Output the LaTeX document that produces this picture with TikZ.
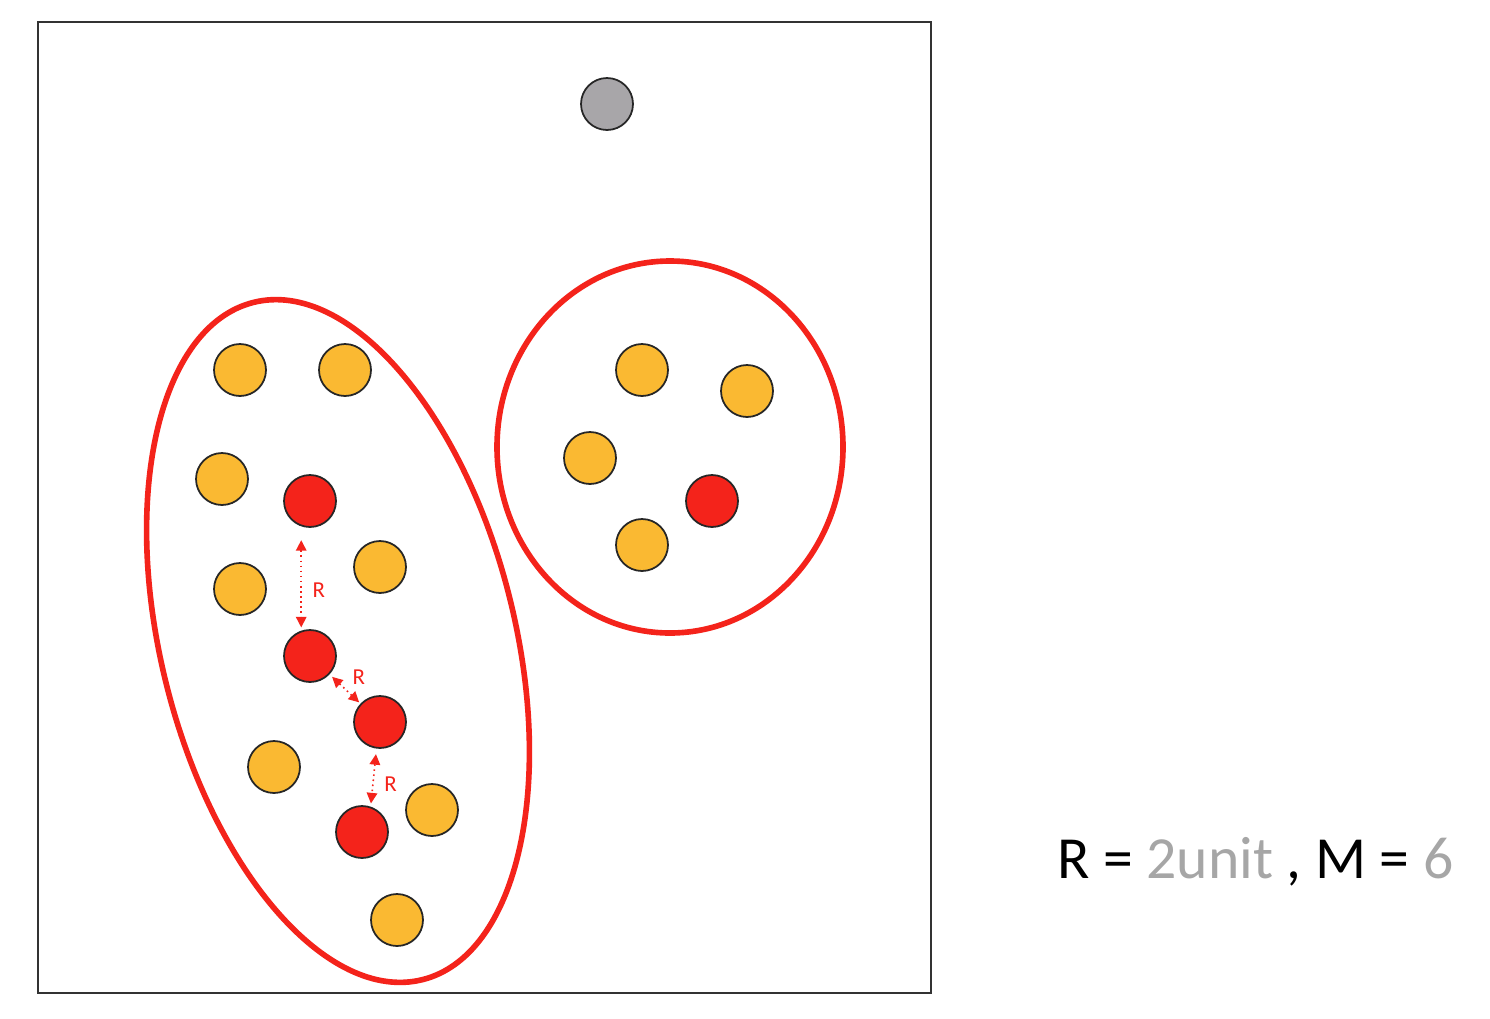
\documentclass[tikz,border=0pt]{standalone}
\usepackage{fontspec}
\setmainfont{Carlito}
\usepackage{xcolor}
\usetikzlibrary{arrows.meta}
\definecolor{ptyellow}{HTML}{FAB932}
\definecolor{ptred}{HTML}{F4231B}
\definecolor{ptgray}{HTML}{A8A6A9}
\definecolor{lblgray}{HTML}{A6A6A6}

\begin{document}
\begin{tikzpicture}[x=0.02cm,y=-0.02cm,
    pt/.style={circle,draw=black!85,line width=1pt,minimum size=1.04cm,inner sep=0pt},
    yellowpt/.style={pt,fill=ptyellow},
    redpt/.style={pt,fill=ptred},
    graypt/.style={pt,fill=ptgray},
    cluster/.style={draw=ptred,line width=3.2pt},
    dist/.style={<->,>={Triangle[length=6pt,width=6pt]},ptred,dotted,line width=0.9pt},
    rlabel/.style={text=ptred,font=\fontsize{13}{13}\selectfont,inner sep=1pt}]
  \useasboundingbox (0,0) rectangle (1490,1018);
  \fill[white] (0,0) rectangle (1490,1018);
  \draw[black!80,line width=0.9pt] (38,22) rectangle (931,993);

  % clusters
  \draw[cluster,rotate around={14:(338,641)}] (338,641) ellipse [x radius=177,y radius=349];
  \draw[cluster] (670,447) ellipse [x radius=173,y radius=186];

  % noise point
  \node[graypt] (g) at (607,104) {};

  % left cluster
  \node[yellowpt] (y1) at (240,370) {};
  \node[yellowpt] (y2) at (345,370) {};
  \node[yellowpt] (y3) at (222,479) {};
  \node[yellowpt] (y4) at (380,567) {};
  \node[yellowpt] (y5) at (240,589) {};
  \node[yellowpt] (y6) at (274,767) {};
  \node[yellowpt] (y7) at (432,810) {};
  \node[yellowpt] (y8) at (397,920) {};
  \node[redpt] (r1) at (310,501) {};
  \node[redpt] (r2) at (310,656) {};
  \node[redpt] (r3) at (380,722) {};
  \node[redpt] (r4) at (362,832) {};

  % right cluster
  \node[yellowpt] (y9) at (642,370) {};
  \node[yellowpt] (y10) at (747,391) {};
  \node[yellowpt] (y11) at (590,458) {};
  \node[yellowpt] (y12) at (642,545) {};
  \node[redpt] (r5) at (712,501) {};

  % distances
  \draw[dist,shorten <=7pt,shorten >=1pt] ([xshift=-5]r1.south) -- node[rlabel,pos=0.62,right=5pt] {R} ([xshift=-5]r2.north);
  \draw[dist,shorten <=2pt,shorten >=1pt] (r2) -- node[rlabel,pos=0.55,above right=2pt] {R} (r3);
  \draw[dist,shorten <=3pt,shorten >=1pt] ([xshift=-2]r3.south) -- node[rlabel,pos=0.62,right=5pt] {R} ([xshift=5]r4.north);

  \node[anchor=base west,font=\fontsize{34}{34}\selectfont,inner sep=0pt] (eq) at (1057,878)
    {R = \textcolor{lblgray}{2unit} , M = \textcolor{lblgray}{6}};
\end{tikzpicture}
\end{document}
